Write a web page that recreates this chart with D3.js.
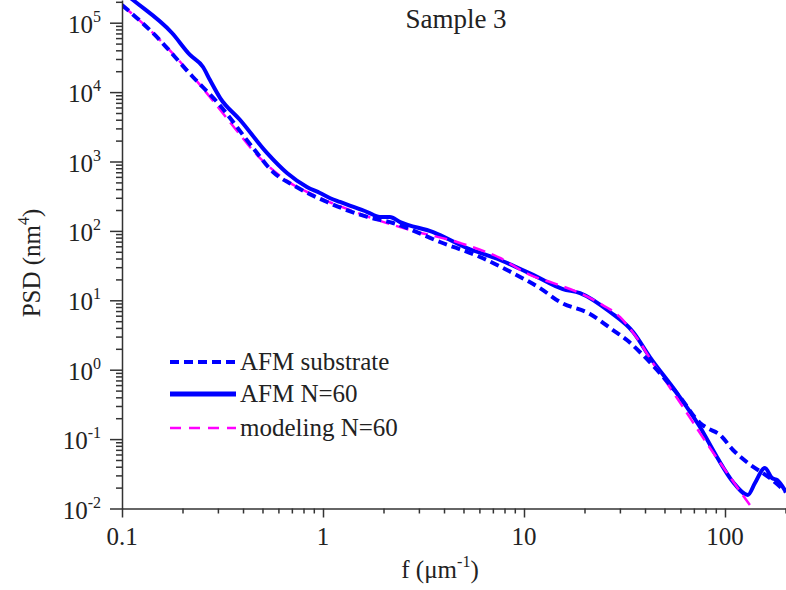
<!DOCTYPE html>
<html lang="en">
  <head>
    <meta charset="utf-8">
    <title>Sample 3 PSD</title>
    <style>
      body { margin: 0; background: #fff; }
      svg text { font-family: "Liberation Serif", serif; fill: #222; }
      .axis path, .axis line { stroke: #333; stroke-width: 1.5; }
    </style>
  </head>
  <body>
    <svg width="786" height="590"></svg>

    <script src="https://d3js.org/d3.v7.min.js"></script>
    <script>

    // values (f in um^-1, PSD in nm^4)
    var freqSolid = [0.1, 0.1135, 0.1774, 0.218, 0.253, 0.274, 0.308, 0.387, 0.526, 0.662, 0.832, 0.966, 1.08, 1.215, 1.66, 1.92, 2.15, 2.42, 3.53, 5.2, 7.6, 11.1, 15.6, 19.0, 26.8, 34.9, 42.3, 57.7, 75.1, 91.2, 109.6, 130, 141, 158, 171, 182, 201];
    var psdSolid  = [2.86e5, 2.12e5, 7.1e4, 3.43e4, 2.3e4, 1.49e4, 8.2e3, 3.96e3, 1.33e3, 683, 430, 351, 298, 261, 187, 159, 159, 134, 96, 56.7, 38.1, 23.2, 14.5, 12.7, 6.78, 3.49, 1.52, 0.461, 0.149, 0.0552, 0.0241, 0.0157, 0.0233, 0.0384, 0.0276, 0.0256, 0.0173];

    var freqSub = [0.1, 0.1426, 0.2254, 0.297, 0.449, 0.564, 0.709, 1.047, 1.66, 2.23, 3.82, 6.04, 8.8, 12.0, 15.1, 21.3, 27.7, 32.5, 37.7, 45.9, 59.7, 75.1, 81.3, 94.4, 109.6, 130, 167, 201];
    var psdSub  = [1.8e5, 7.1e4, 1.65e4, 7.2e3, 1.57e3, 706, 458, 261, 159, 130, 69.2, 42.1, 24.7, 15.0, 9.46, 6.35, 3.73, 2.68, 1.80, 0.99, 0.405, 0.171, 0.145, 0.115, 0.0697, 0.0453, 0.0275, 0.0173];

    var freqModel = [0.1, 0.1545, 0.2443, 0.344, 0.470, 0.632, 0.966, 1.36, 1.86, 2.71, 4.81, 7.6, 10.7, 13.9, 18.4, 23.1, 30.0, 36.5, 43.8, 51.4, 61.8, 75.1, 105.9, 133];
    var psdModel  = [1.8e5, 5.63e4, 1.27e4, 3.71e3, 1.24e3, 578, 298, 200, 144, 103, 67, 40.7, 23.2, 17.8, 13.2, 9.46, 5.75, 2.86, 1.25, 0.642, 0.290, 0.122, 0.0284, 0.0112];

    var xMajor = [0.1, 1, 10, 100];
    var xLabels = ["0.1", "1", "10", "100"];
    var yExponents = [-2, -1, 0, 1, 2, 3, 4, 5];

    var legendNames = ["AFM substrate", "AFM N=60", "modeling N=60"];

    var svg = d3.select("svg");

    var left = 122, right = 785.5, bottom = 508.5;

    var x = d3.scaleLog().domain([0.1, 200]).range([left, right]);
    var y = d3.scaleLog().domain([1e-2, 1e5]).range([bottom, 22.7]);
    // extend the y domain up to the top edge of the picture
    y.domain([1e-2, y.invert(0)]).range([bottom, 0]);

    function minors(lo, hi) {
      var out = [];
      for (var e = lo; e <= hi; e++) {
        for (var m = 2; m <= 9; m++) out.push(m * Math.pow(10, e));
      }
      return out;
    }

    var xMinor = minors(-1, 2).filter(function(v) { return v <= 200; });
    var yMinor = minors(-2, 5).filter(function(v) { return v <= y.domain()[1]; });

    svg.append("clipPath").attr("id", "plot")
      .append("rect").attr("x", left).attr("y", 0).attr("width", right - left + 1).attr("height", bottom);

    var g = svg.append("g").attr("clip-path", "url(#plot)");

    var line = d3.line()
        .x(function(d) { return x(d[0]); })
        .y(function(d) { return y(d[1]); })
        .curve(d3.curveMonotoneX);

    function zip(a, b) { return a.map(function(v, i) { return [v, b[i]]; }); }

    g.append("path")
        .datum(zip(freqSolid, psdSolid))
        .attr("d", line)
        .attr("fill", "none")
        .attr("stroke", "#0000ff")
        .attr("stroke-width", 4)
        .attr("stroke-linejoin", "round");

    g.append("path")
        .datum(zip(freqModel, psdModel))
        .attr("d", line)
        .attr("fill", "none")
        .attr("stroke", "#ff00ff")
        .attr("stroke-width", 2.5)
        .attr("stroke-dasharray", "13,7");

    g.append("path")
        .datum(zip(freqSub, psdSub))
        .attr("d", line)
        .attr("fill", "none")
        .attr("stroke", "#0000ff")
        .attr("stroke-width", 4)
        .attr("stroke-dasharray", "9,5");

    // axes
    svg.append("g").attr("class", "axis")
        .attr("transform", "translate(0," + bottom + ")")
        .call(d3.axisBottom(x).tickValues(xMinor).tickSize(5).tickSizeOuter(0).tickFormat(""));
    svg.append("g").attr("class", "axis")
        .attr("transform", "translate(0," + bottom + ")")
        .call(d3.axisBottom(x).tickValues(xMajor).tickSize(9).tickSizeOuter(0).tickFormat(""))
        .select(".domain").remove();

    svg.append("g").attr("class", "axis")
        .attr("transform", "translate(" + left + ",0)")
        .call(d3.axisLeft(y).tickValues(yMinor).tickSize(6).tickSizeOuter(0).tickFormat(""));
    svg.append("g").attr("class", "axis")
        .attr("transform", "translate(" + left + ",0)")
        .call(d3.axisLeft(y).tickValues(yExponents.map(function(e) { return Math.pow(10, e); })).tickSize(12).tickSizeOuter(0).tickFormat(""))
        .select(".domain").remove();

    svg.append("g").selectAll("text")
        .data(xMajor)
      .enter().append("text")
        .attr("x", function(d) { return x(d); })
        .attr("y", 545)
        .attr("text-anchor", "middle")
        .style("font-size", "25px")
        .text(function(d, i) { return xLabels[i]; });

    var yl = svg.append("g").selectAll("text")
        .data(yExponents)
      .enter().append("text")
        .attr("x", 101)
        .attr("y", function(d) { return y(Math.pow(10, d)) + 10; })
        .attr("text-anchor", "end")
        .style("font-size", "25px");
    yl.append("tspan").text("10");
    yl.append("tspan")
        .attr("dy", -11)
        .style("font-size", "16px")
        .text(function(d) { return d; });

    // titles
    svg.append("text")
        .attr("x", 456).attr("y", 28)
        .attr("text-anchor", "middle")
        .style("font-size", "27px")
        .text("Sample 3");

    var xt = svg.append("text")
        .attr("x", 440).attr("y", 578)
        .attr("text-anchor", "middle")
        .style("font-size", "25px");
    xt.append("tspan").text("f (\u03bcm");
    xt.append("tspan").attr("dy", -11).style("font-size", "16px").text("-1");
    xt.append("tspan").attr("dy", 11).text(")");

    var yt = svg.append("text")
        .attr("transform", "translate(40,263) rotate(-90)")
        .attr("text-anchor", "middle")
        .style("font-size", "25px");
    yt.append("tspan").text("PSD (nm");
    yt.append("tspan").attr("dy", -11).style("font-size", "16px").text("4");
    yt.append("tspan").attr("dy", 11).text(")");

    // legend
    var legendY = [362, 394, 428];
    var legendStyle = [
      { color: "#0000ff", width: 4, dash: "9,5" },
      { color: "#0000ff", width: 5, dash: null },
      { color: "#ff00ff", width: 2.5, dash: "11,8" }
    ];
    var lg = svg.append("g").selectAll("g")
        .data(legendNames)
      .enter().append("g");
    lg.append("line")
        .attr("x1", 170).attr("x2", 236)
        .attr("y1", function(d, i) { return legendY[i]; })
        .attr("y2", function(d, i) { return legendY[i]; })
        .attr("stroke", function(d, i) { return legendStyle[i].color; })
        .attr("stroke-width", function(d, i) { return legendStyle[i].width; })
        .attr("stroke-dasharray", function(d, i) { return legendStyle[i].dash; });
    lg.append("text")
        .attr("x", 240)
        .attr("y", function(d, i) { return legendY[i] + 8; })
        .style("font-size", "25px")
        .text(function(d) { return d; });

    </script>
  </body>
</html>
